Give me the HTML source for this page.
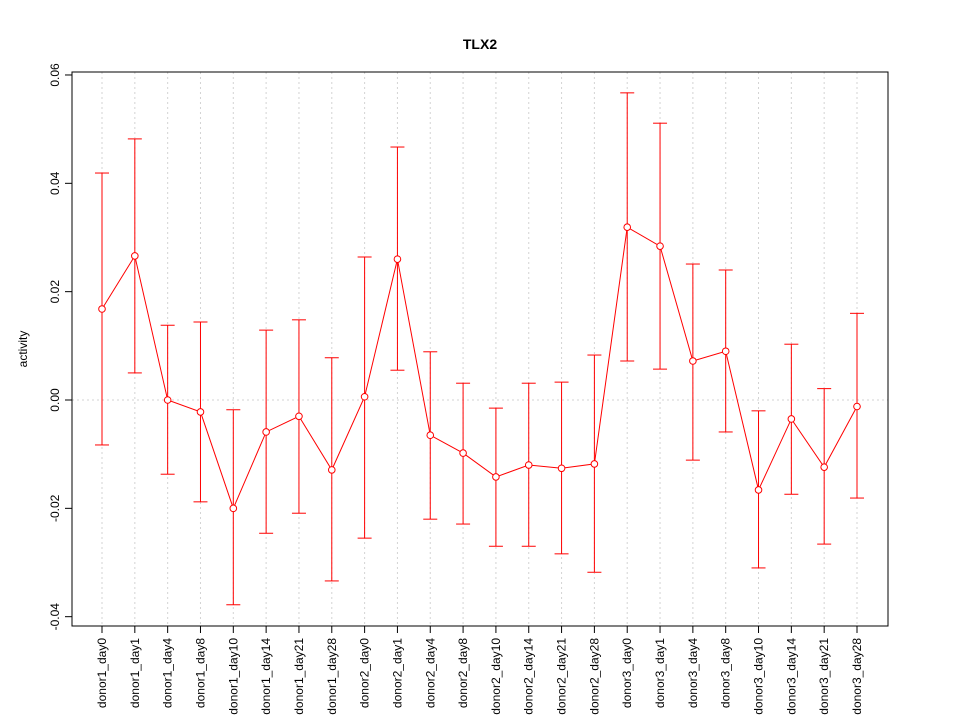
<!DOCTYPE html>
<html><head><meta charset="utf-8"><style>
body{margin:0;background:#fff;}
svg{font-family:"Liberation Sans",sans-serif;}
</style></head><body>
<svg id="chart" width="960" height="720" xmlns="http://www.w3.org/2000/svg"></svg>
<script>
const categories=["donor1_day0","donor1_day1","donor1_day4","donor1_day8","donor1_day10","donor1_day14","donor1_day21","donor1_day28","donor2_day0","donor2_day1","donor2_day4","donor2_day8","donor2_day10","donor2_day14","donor2_day21","donor2_day28","donor3_day0","donor3_day1","donor3_day4","donor3_day8","donor3_day10","donor3_day14","donor3_day21","donor3_day28"];
const values=[0.0168,0.0266,0,-0.0022,-0.02,-0.0059,-0.003,-0.0129,0.0006,0.026,-0.0065,-0.0098,-0.0142,-0.012,-0.0126,-0.0118,0.0319,0.0284,0.0072,0.009,-0.0166,-0.0035,-0.0124,-0.0012];
const upper=[0.0419,0.0482,0.0138,0.0144,-0.0018,0.0129,0.0148,0.0078,0.0264,0.0467,0.0089,0.0031,-0.0015,0.0031,0.0033,0.0083,0.0567,0.0511,0.0251,0.024,-0.002,0.0103,0.0021,0.016];
const lower=[-0.0083,0.005,-0.0137,-0.0188,-0.0378,-0.0246,-0.0209,-0.0334,-0.0255,0.0055,-0.022,-0.0229,-0.027,-0.027,-0.0284,-0.0318,0.0072,0.0057,-0.0111,-0.0059,-0.031,-0.0174,-0.0266,-0.0181];
const yTicks=[-0.04,-0.02,0.00,0.02,0.04,0.06];
const yTickLabels=["-0.04","-0.02","0.00","0.02","0.04","0.06"];

const svg=document.getElementById('chart');
const NS="http://www.w3.org/2000/svg";
const L=72,R=888,T=72,B=626;
function y(v){return 400-v*5417;}
function x(i){return 102+i*(857-102)/(categories.length-1);}
function mk(tag,attrs,name,parent){const e=document.createElementNS(NS,tag);for(const k in attrs)e.setAttribute(k,attrs[k]);


(parent||svg).appendChild(e);return e;}

// grid
categories.forEach((c,i)=>{mk('line',{x1:x(i),x2:x(i),y1:T,y2:B,stroke:'#d3d3d3','stroke-dasharray':'2,3'},'grid-vertical');});
mk('line',{x1:L,x2:R,y1:y(0),y2:y(0),stroke:'#d3d3d3','stroke-dasharray':'2,3'},'grid-zero');
// frame
mk('rect',{x:L,y:T,width:R-L,height:B-T,fill:'none',stroke:'#000'},'plot-frame');
// y axis
mk('line',{x1:L,x2:L,y1:y(yTicks[0]),y2:y(yTicks[yTicks.length-1]),stroke:'#000'},'y-axis-line');
yTicks.forEach((t,i)=>{
 mk('line',{x1:L-7,x2:L,y1:y(t),y2:y(t),stroke:'#000'},'y-tick');
 const tx=mk('text',{x:L-13,y:y(t),'font-size':12,'text-anchor':'middle',transform:`rotate(-90 ${L-13} ${y(t)})`},'y-tick-label');
 tx.textContent=yTickLabels[i];
});
// x axis
mk('line',{x1:x(0),x2:x(categories.length-1),y1:B,y2:B,stroke:'#000'},'x-axis-line');
categories.forEach((c,i)=>{
 mk('line',{x1:x(i),x2:x(i),y1:B,y2:B+7,stroke:'#000'},'x-tick');
 const tx=mk('text',{x:x(i)+4,y:B+12,'font-size':12,'text-anchor':'end',transform:`rotate(-90 ${x(i)+4} ${B+12})`},'x-tick-label');
 tx.textContent=c;
});
// title & label
const ti=mk('text',{x:480,y:49,'font-size':14,'font-weight':'bold','text-anchor':'middle'},'chart-title');ti.textContent='TLX2';
const yl=mk('text',{x:27,y:349,'font-size':12,'text-anchor':'middle',transform:'rotate(-90 27 349)'},'y-axis-title');yl.textContent='activity';
// error bars
categories.forEach((c,i)=>{
 mk('line',{x1:x(i),x2:x(i),y1:y(upper[i]),y2:y(lower[i]),stroke:'#ff0000'},'error-bar');
 mk('line',{x1:x(i)-7,x2:x(i)+7,y1:y(upper[i]),y2:y(upper[i]),stroke:'#ff0000'},'error-cap-upper');
 mk('line',{x1:x(i)-7,x2:x(i)+7,y1:y(lower[i]),y2:y(lower[i]),stroke:'#ff0000'},'error-cap-lower');
});
// line
mk('polyline',{points:values.map((v,i)=>x(i)+','+y(v)).join(' '),fill:'none',stroke:'#ff0000'},'activity-line');
values.forEach((v,i)=>{mk('circle',{cx:x(i),cy:y(v),r:3.3,fill:'#fff',stroke:'#ff0000'},'data-point');});
</script>
</body></html>
